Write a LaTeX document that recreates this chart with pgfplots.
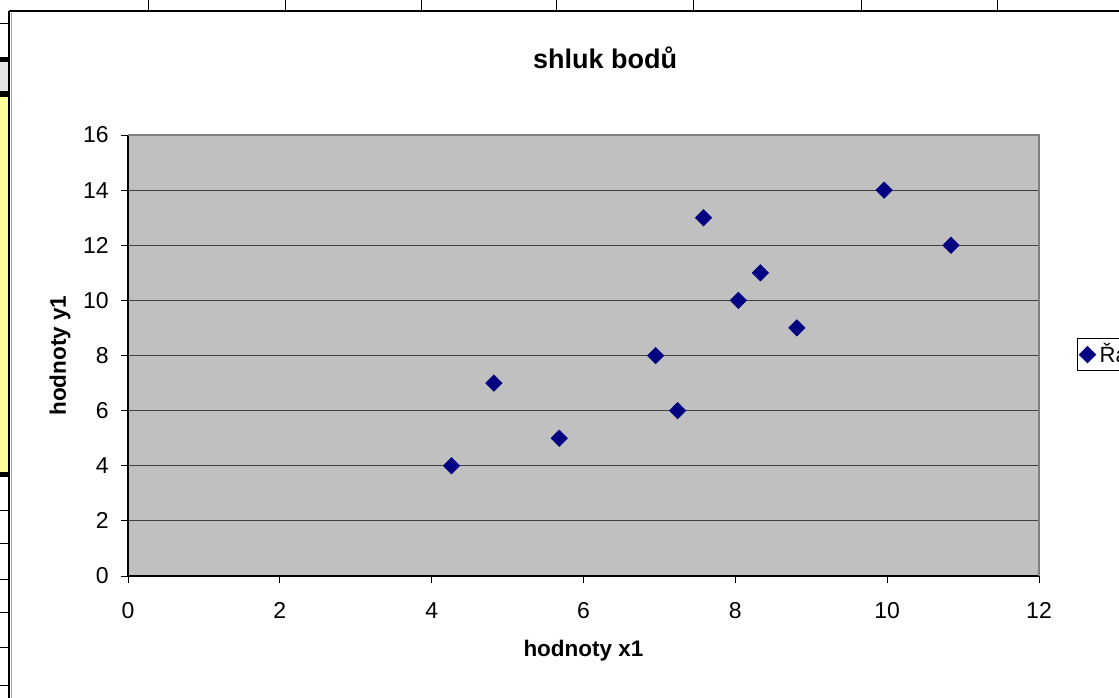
\documentclass[border=0pt]{standalone}
\usepackage{pgfplots}
\pgfplotsset{compat=1.18}
\usepackage{fontspec}
\setmainfont{Liberation Sans}
\definecolor{plotgray}{HTML}{C0C0C0}
\definecolor{navymark}{HTML}{000080}
\definecolor{cellyellow}{HTML}{FFFF99}
\definecolor{cellgray}{HTML}{E3E3E3}
\begin{document}
\begin{tikzpicture}
% page = 1119 x 697 px, 1 px = 0.5pt
\useasboundingbox (0,0) rectangle (559.5pt,-348.5pt);
\begin{scope}[x=0.5pt,y=-0.5pt]
  % spreadsheet cells around the chart
  \fill[cellgray] (0,62) rectangle (9,91);
  \fill[cellyellow] (0,97) rectangle (9,472);
  \fill[black] (0,57) rectangle (9,62);
  \fill[black] (0,91) rectangle (9,97);
  \fill[black] (0,472) rectangle (9,477);
  \foreach \yy in {23,510,543,579,612,647,685}
    \draw[line width=0.5pt] (0,\yy) -- (9,\yy);
  \foreach \xx in {148,285,421,556,693,861,997}
    \draw[line width=0.5pt] (\xx,0) -- (\xx,11);
  % chart area
  \fill[white] (9,11) rectangle (1130,720);
  \draw[line width=0.8pt] (9,11) -- (1130,11);
  \draw[line width=0.8pt] (9,11) -- (9,720);
  \draw[gray!70,line width=0.5pt] (11,13) -- (11,720);
  \node[font=\bfseries\fontsize{13.5}{16}\selectfont] at (605,58) {shluk bodů};
\end{scope}
\begin{axis}[
    at={(64pt,-288pt)}, anchor=south west,
    scale only axis, width=455.5pt, height=220.5pt,
    xmin=0, xmax=12, ymin=0, ymax=16,
    xtick={0,2,...,12}, ytick={0,2,...,16},
    axis x line*=bottom, axis y line*=left,
    axis line style={-, black, line width=0.7pt},
    tick align=outside, major tick length=3.5pt,
    tick style={black, line width=0.5pt},
    axis background/.style={fill=plotgray},
    ymajorgrids, grid style={black!75, line width=0.5pt},
    /pgf/number format/assume math mode=true,
    ticklabel style={font=\fontsize{11.5}{13}\selectfont},
    yticklabel style={inner sep=0pt, anchor=east, xshift=-6pt},
    xticklabel style={inner sep=0pt, anchor=north, yshift=-9.5pt},
    xlabel={\bfseries hodnoty x1}, ylabel={\bfseries hodnoty y1},
    label style={font=\fontsize{11.25}{13}\selectfont},
    xlabel style={at={(axis description cs:0.5,0)}, anchor=center, yshift=-37.5pt},
    ylabel style={at={(axis description cs:0,0.5)}, anchor=center, yshift=34pt},
    legend style={at={(1.0417,0.5397)}, anchor=north west, draw=black,
      line width=0.5pt, fill=white, inner xsep=1pt, inner ysep=0.5pt,
      font=\fontsize{11}{13}\selectfont},
    legend image code/.code={\draw[#1] plot coordinates {(0.2cm,0cm)};},
    after end axis/.code={
      \draw[black!50, line width=1pt] (rel axis cs:0,1) -- (rel axis cs:1,1) -- (rel axis cs:1,0);
    },
]
\addplot[only marks, mark=square*, mark size=2.85pt,
  mark options={rotate=45, fill=navymark, draw=navymark}]
  coordinates {
    (4.26,4) (4.82,7) (5.68,5) (6.95,8) (7.24,6) (7.58,13)
    (8.04,10) (8.33,11) (8.81,9) (9.96,14) (10.84,12)
  };
\addlegendentry{Řada1}
\end{axis}
\end{tikzpicture}
\end{document}
